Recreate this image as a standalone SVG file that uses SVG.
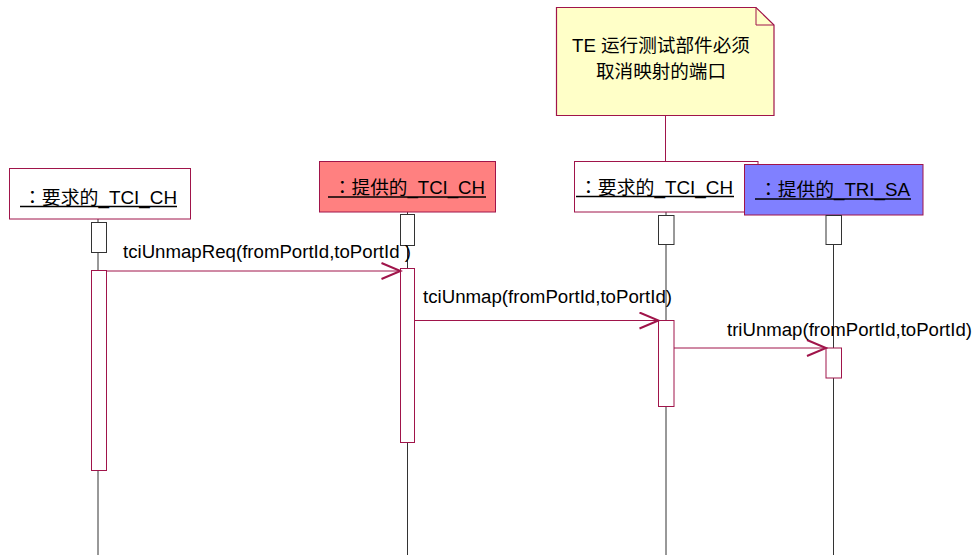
<svg xmlns="http://www.w3.org/2000/svg" width="973" height="555" viewBox="0 0 973 555">
<style>
text{font-family:"Liberation Sans","Noto Sans CJK SC",sans-serif;font-size:18px;fill:#000}
text.lbl{font-family:"Liberation Sans","Noto Sans CJK JP",sans-serif}
.box{stroke:#A0144A;stroke-width:1}
.ul{stroke:#000;stroke-width:1.6}
.life{stroke:#333;stroke-width:1}
.ctl{fill:#fff;stroke:#333;stroke-width:1}
.act{fill:#fff;stroke:#A0144A;stroke-width:1}
.msg{stroke:#A0144A;stroke-width:1;fill:none;marker-end:url(#arr)}
</style>
<defs>
<marker id="arr" markerUnits="userSpaceOnUse" markerWidth="22" markerHeight="20" refX="20" refY="9" orient="auto">
<path d="M1,1 L20,9 L1,17" fill="none" stroke="#A0144A" stroke-width="2"/>
</marker>
</defs>
<g id="lifelines">
<line class="life" x1="98" y1="219" x2="98" y2="555"/>
<line class="life" x1="407.5" y1="212" x2="407.5" y2="555"/>
<line class="life" x1="666" y1="212" x2="666" y2="555"/>
<line class="life" x1="833.5" y1="215" x2="833.5" y2="555"/>
</g>
<g id="note">
<line x1="665.5" y1="115" x2="665.5" y2="161" stroke="#A0144A" stroke-width="1"/>
<path d="M556.5,7.5 H756 L774,25 V115.5 H556.5 Z" fill="#FFFFC8" stroke="#A0144A" stroke-width="1.2"/>
<path d="M756,7.5 V25 H774" fill="none" stroke="#A0144A" stroke-width="1"/>
<text x="572" y="52" textLength="178" lengthAdjust="spacingAndGlyphs">TE 运行测试部件必须</text>
<text x="596" y="78" textLength="130" lengthAdjust="spacingAndGlyphs">取消映射的端口</text>
</g>
<g id="n1">
<rect class="box" x="9.5" y="168.5" width="181" height="50.5" fill="#fff"/>
<text class="lbl" x="23" y="203.5" textLength="154" lengthAdjust="spacingAndGlyphs">：要求的_TCI_CH</text>
<line class="ul" x1="20" y1="206.5" x2="177" y2="206.5"/>
<rect class="ctl" x="91.5" y="222.5" width="15" height="30"/>
<rect class="act" x="91.5" y="270.5" width="15" height="200"/>
</g>
<g id="n2">
<rect class="box" x="319.5" y="161.5" width="176" height="50.5" fill="#FF8080"/>
<text class="lbl" x="333" y="193.5" textLength="152" lengthAdjust="spacingAndGlyphs">：提供的_TCI_CH</text>
<line class="ul" x1="328" y1="197" x2="486" y2="197"/>
<rect class="ctl" x="400.5" y="214.5" width="14" height="31"/>
<rect class="act" x="400.5" y="268.5" width="14" height="174"/>
</g>
<g id="n3">
<rect class="box" x="574.5" y="161.5" width="183.5" height="50.5" fill="#fff"/>
<text class="lbl" x="579" y="193.5" textLength="154" lengthAdjust="spacingAndGlyphs">：要求的_TCI_CH</text>
<line class="ul" x1="576" y1="196.5" x2="734" y2="196.5"/>
<rect class="ctl" x="658.5" y="215.5" width="15.5" height="29"/>
<rect class="act" x="658.5" y="320.5" width="15.5" height="86"/>
</g>
<g id="n4">
<rect class="box" x="744.5" y="164.5" width="178.5" height="50.5" fill="#8080FF"/>
<text class="lbl" x="759" y="196" textLength="151" lengthAdjust="spacingAndGlyphs">：提供的_TRI_SA</text>
<line class="ul" x1="755" y1="199" x2="911" y2="199"/>
<rect class="ctl" x="826" y="215.5" width="15.5" height="29"/>
<rect class="act" x="826" y="348" width="15.5" height="30"/>
</g>
<g id="connectors">
<line class="msg" x1="106.5" y1="271" x2="400.5" y2="271"/>
<text x="123" y="257.5" textLength="288" lengthAdjust="spacingAndGlyphs">tciUnmapReq(fromPortId,toPortId )</text>
<line class="msg" x1="414.5" y1="320.5" x2="658.5" y2="320.5"/>
<text x="423" y="302.5" textLength="249" lengthAdjust="spacingAndGlyphs">tciUnmap(fromPortId,toPortId)</text>
<line class="msg" x1="674" y1="348" x2="826" y2="348"/>
<text x="727" y="335.5" textLength="245" lengthAdjust="spacingAndGlyphs">triUnmap(fromPortId,toPortId)</text>
</g>
</svg>
